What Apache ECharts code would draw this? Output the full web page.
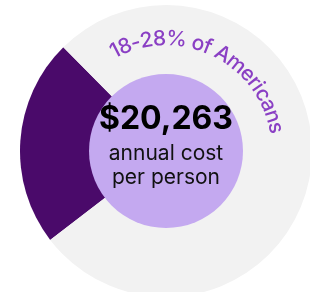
<!DOCTYPE html>
<html>
<head>
<meta charset="utf-8">
<script src="https://cdn.jsdelivr.net/npm/echarts@6/dist/echarts.min.js"></script>
<style>
  html, body { margin: 0; padding: 0; background: #fff; }
  #chart { width: 310px; height: 292px; }
</style>
</head>
<body>
<div id="chart"></div>
<script>
// share of people (midpoint of 18-28%) vs everyone else
const categories = ['18-28% of Americans', 'Others'];
const shareValues = [23, 77];
const arcLabel = '18-28% of Americans';
const centerValue = '$20,263';
const centerLines = ['annual cost', 'per person'];

const cx = 166, cy = 151;
const outerR = 146, innerR = 77;
const textR = 112;
const arcFont = '500 21px Inter';
// angles (deg) of the first and last letter of the ring label
const arcFrom = 117, arcTo = 12;

const chart = echarts.init(document.getElementById('chart'));

// lay out the ring label along the arc, character by character
function arcText() {
  const ctx = document.createElement('canvas').getContext('2d');
  ctx.font = arcFont;
  const chars = arcLabel.split('');
  const widths = chars.map(c => ctx.measureText(c).width);
  const n = chars.length;
  const inner = widths.reduce((a, b) => a + b, 0) - widths[0] / 2 - widths[n - 1] / 2;
  const arcLen = (arcFrom - arcTo) * Math.PI / 180 * textR;
  const gap = (arcLen - inner) / (n - 1);
  let th = arcFrom * Math.PI / 180;
  const out = [];
  chars.forEach((c, i) => {
    out.push({
      type: 'text',
      z: 100,
      x: cx + textR * Math.cos(th),
      y: cy - textR * Math.sin(th),
      rotation: th - Math.PI / 2,
      silent: true,
      style: {
        text: c,
        font: arcFont,
        fill: '#8a3fc4',
        align: 'center',
        verticalAlign: 'middle'
      }
    });
    if (i < n - 1) th -= (widths[i] / 2 + widths[i + 1] / 2 + gap) / textR;
  });
  return out;
}

chart.setOption({
  animation: false,
  series: [
    {
      type: 'pie',
      center: [cx, cy],
      radius: [0, outerR],
      startAngle: 217.5,
      clockwise: true,
      silent: true,
      label: { show: false },
      labelLine: { show: false },
      itemStyle: { borderWidth: 0 },
      data: categories.map((name, i) => ({
        name: name,
        value: shareValues[i],
        itemStyle: { color: i === 0 ? '#4a0a6a' : '#f2f2f2' }
      }))
    },
    {
      type: 'pie',
      center: [cx, cy],
      radius: [0, innerR],
      silent: true,
      label: { show: false },
      labelLine: { show: false },
      itemStyle: { color: '#c4a9f0', borderWidth: 0 },
      data: [{ name: 'cost', value: 1 }]
    }
  ],
  graphic: [
    {
      type: 'text',
      z: 100,
      x: cx, y: 119,
      silent: true,
      style: {
        text: centerValue,
        font: 'bold 32px Inter',
        fill: '#000',
        align: 'center',
        verticalAlign: 'middle'
      }
    },
    {
      type: 'text',
      z: 100,
      x: cx, y: 154,
      silent: true,
      style: {
        text: centerLines[0],
        font: '21px Inter',
        fill: '#111',
        align: 'center',
        verticalAlign: 'middle'
      }
    },
    {
      type: 'text',
      z: 100,
      x: cx, y: 178,
      silent: true,
      style: {
        text: centerLines[1],
        font: '21px Inter',
        fill: '#111',
        align: 'center',
        verticalAlign: 'middle'
      }
    }
  ].concat(arcText())
});
</script>
</body>
</html>
